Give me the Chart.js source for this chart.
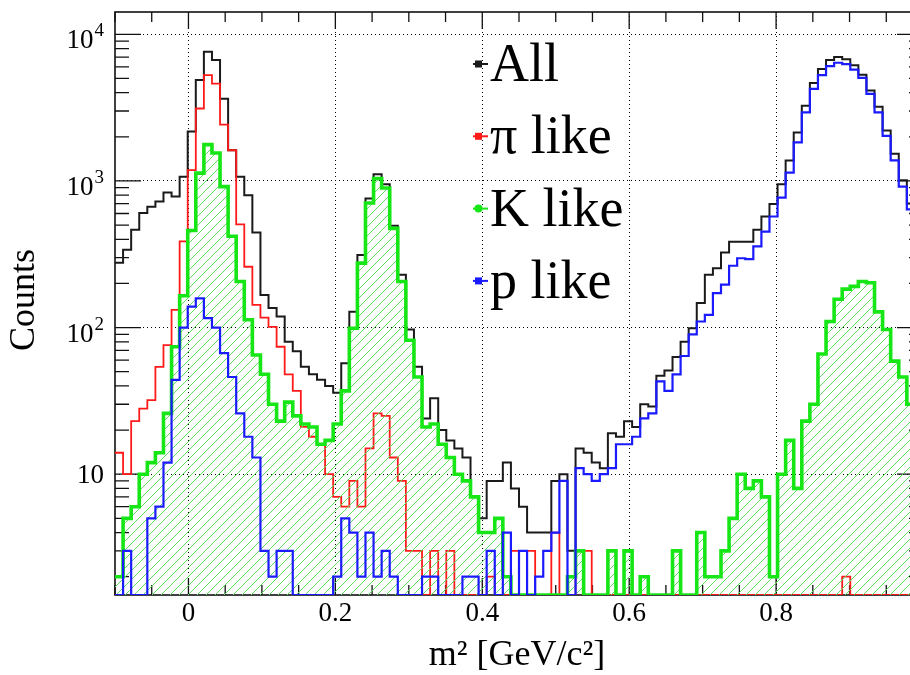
<!DOCTYPE html>
<html>
<head>
<meta charset="utf-8">
<script src="https://cdn.jsdelivr.net/npm/chart.js@4/dist/chart.umd.min.js"></script>
<style>
  html, body { margin: 0; padding: 0; background: #fff; overflow: hidden; }
  #wrap { width: 940px; height: 675px; }
</style>
</head>
<body>
<div id="wrap"><canvas id="m2-chart" width="940" height="675" style="width:940px;height:675px"></canvas></div>
<script>
// m^2 spectrum: 100 bins of 0.011 from -0.1 to 1.0, counts
var binLow = -0.1;
var binWidth = 0.011;

var countsAll = [277, 340, 464, 605, 667, 725, 833, 783, 1070, 2170,
  4880, 7620, 6680, 3630, 1620, 1070, 800, 445, 167, 136,
  119, 80, 69, 54, 48, 44, 40, 36, 57, 128,
  313, 760, 1110, 950, 495, 229, 97, 54, 24, 33,
  20, 17, 15, 13, 7, 5, 9, 9, 12, 8,
  6, 4, 4, 4, 9, 10, 3, 15, 14, 12,
  11, 19, 18, 23, 21, 30, 29, 47, 51, 63,
  80, 99, 147, 229, 254, 325, 385, 385, 385, 464,
  572, 697, 950, 1380, 2140, 3260, 4660, 5810, 6680, 7000,
  6750, 6150, 5310, 4140, 3210, 2210, 1530, 1010, 703, 480];

var countsPi = [14, 10, 23, 28, 32, 54, 76, 132, 387, 1185,
  3120, 5270, 4610, 2420, 1620, 505, 260, 143, 117, 101,
  74, 48, 37, 21, 18, 16, 10, 7, 6, 9,
  6, 15, 26, 25, 13, 9, 3, 3, 1, 3,
  1, 3, 0, 0, 0, 0, 2, 0, 0, 3,
  3, 3, 0, 0, 4, 0, 0, 3, 3, 0,
  0, 0, 0, 0, 0, 0, 0, 0, 0, 0,
  0, 0, 0, 0, 0, 0, 0, 0, 0, 0,
  0, 0, 0, 0, 0, 0, 0, 0, 0, 0,
  2, 0, 0, 0, 0, 0, 0, 0, 0, 0];

var countsK = [2, 5, 6, 10, 12, 14, 26, 74, 165, 459,
  1130, 1770, 1550, 915, 420, 206, 113, 65, 48, 30,
  23, 31, 25, 22, 21, 16, 17, 22, 37, 99,
  275, 708, 1040, 895, 475, 206, 82, 46, 21, 22,
  16, 13, 10, 9, 7, 4, 4, 5, 2, 0,
  0, 0, 0, 0, 0, 0, 2, 3, 0, 0,
  0, 3, 0, 3, 0, 2, 0, 0, 0, 3,
  0, 0, 4, 2, 2, 3, 5, 10, 8, 9,
  7, 2, 10, 17, 8, 23, 30, 66, 110, 156,
  183, 191, 206, 202, 128, 97, 59, 46, 30, 20];

var countsP = [0, 3, 0, 0, 5, 6, 12, 44, 100, 139,
  158, 116, 100, 67, 46, 26, 18, 13, 3, 2,
  3, 3, 0, 0, 0, 0, 0, 2, 5, 4,
  2, 4, 2, 3, 2, 0, 0, 0, 2, 2,
  0, 0, 0, 2, 2, 0, 3, 0, 4, 0,
  3, 0, 2, 3, 4, 9, 0, 11, 10, 9,
  10, 11, 16, 16, 18, 24, 26, 43, 37, 48,
  64, 90, 110, 122, 172, 196, 264, 297, 293, 358,
  451, 572, 770, 1140, 1830, 2940, 4250, 5270, 6060, 6400,
  6260, 5740, 5050, 3920, 2940, 2030, 1380, 915, 640, 440];

var xTicks = [0, 0.2, 0.4, 0.6, 0.8];
var yTicks = [10, 100, 1000, 10000];
var legendLabels = ['All', 'π like', 'K like', 'p like'];
var xTitle = 'm² [GeV/c²]';
var yTitle = 'Counts';

var yMin = 1.5, yMax = 14200;
var serif = '"Liberation Serif", "Times New Roman", serif';

// histogram outline: one point per left bin edge + closing right edge
function toSteps(counts) {
  var pts = counts.map(function (c, i) {
    return { x: binLow + i * binWidth, y: Math.max(c, yMin) };
  });
  pts.push({ x: binLow + counts.length * binWidth, y: Math.max(counts[counts.length - 1], yMin) });
  return pts;
}

function makeHatch(color) {
  var c = document.createElement('canvas');
  c.width = 9; c.height = 9;
  var g = c.getContext('2d');
  g.strokeStyle = color;
  g.lineWidth = 1;
  g.beginPath();
  g.moveTo(0, 9); g.lineTo(9, 0);
  g.moveTo(-2, 2); g.lineTo(2, -2);
  g.moveTo(7, 11); g.lineTo(11, 7);
  g.stroke();
  return g.createPattern(c, 'repeat');
}

var seriesColors = ['#1a1a1a', '#ff1a1a', '#16e616', '#1a1aff'];

var rootFrame = {
  id: 'rootFrame',
  beforeDatasetsDraw: function (chart) {
    var ctx = chart.ctx, a = chart.chartArea;
    var xs = chart.scales.x, ys = chart.scales.y;
    ctx.save();
    ctx.strokeStyle = '#111';
    ctx.lineWidth = 1.6;
    ctx.strokeRect(a.left, a.top, a.right - a.left, a.bottom - a.top);
    ctx.lineWidth = 1.3;
    ctx.beginPath();
    for (var k = -2; k <= 20; k++) {
      var px = xs.getPixelForValue(k * 0.05);
      var len = (k % 4 === 0) ? 17 : 10;
      ctx.moveTo(px, a.bottom); ctx.lineTo(px, a.bottom - len);
      ctx.moveTo(px, a.top); ctx.lineTo(px, a.top + len);
    }
    for (var e = 0; e <= 4; e++) {
      for (var m = 1; m <= 9; m++) {
        var val = m * Math.pow(10, e);
        if (val < ys.min || val > ys.max) continue;
        var py = ys.getPixelForValue(val);
        var l = m === 1 ? 26 : 14;
        ctx.moveTo(a.left, py); ctx.lineTo(a.left + l, py);
        ctx.moveTo(a.right, py); ctx.lineTo(a.right - l, py);
      }
    }
    ctx.stroke();
    ctx.restore();
  },
  afterDraw: function (chart) {
    var ctx = chart.ctx, a = chart.chartArea, ys = chart.scales.y;
    ctx.save();
    ctx.fillStyle = '#000';
    ctx.textBaseline = 'alphabetic';

    // y tick labels as 10^n
    ctx.textAlign = 'right';
    yTicks.forEach(function (v) {
      var py = ys.getPixelForValue(v);
      var n = Math.round(Math.log10(v));
      if (n === 1) {
        ctx.font = '27px ' + serif;
        ctx.fillText('10', 104, py + 9);
      } else {
        ctx.font = '19px ' + serif;
        var s = String(n);
        ctx.fillText(s, 104, py + 2);
        var w = ctx.measureText(s).width;
        ctx.font = '27px ' + serif;
        ctx.fillText('10', 104 - w - 1, py + 14);
      }
    });

    // axis titles
    ctx.font = '36px ' + serif;
    ctx.textAlign = 'center';
    ctx.fillText(xTitle, 517, 665);
    ctx.save();
    ctx.translate(25, 300);
    ctx.rotate(-Math.PI / 2);
    ctx.textBaseline = 'middle';
    ctx.fillText(yTitle, 0, 0);
    ctx.restore();

    // legend
    ctx.textAlign = 'left';
    ctx.font = '54px ' + serif;
    legendLabels.forEach(function (t, i) {
      var base = 81 + i * 72.3;
      var my = base - 17;
      ctx.strokeStyle = seriesColors[i];
      ctx.fillStyle = seriesColors[i];
      ctx.lineWidth = 2;
      ctx.beginPath();
      ctx.moveTo(473, my); ctx.lineTo(488, my);
      ctx.stroke();
      if (i === 2) {
        ctx.beginPath();
        ctx.arc(478.5, my, 4, 0, Math.PI * 2);
        ctx.fill();
      } else {
        ctx.fillRect(475, my - 3.5, 7, 7);
      }
      ctx.fillStyle = '#000';
      ctx.fillText(t, 490, base);
    });
    ctx.restore();
  }
};

var ctx = document.getElementById('m2-chart');
new Chart(ctx, {
  type: 'line',
  data: {
    datasets: [{
      label: legendLabels[0],
      data: toSteps(countsAll),
      borderColor: seriesColors[0],
      borderWidth: 2,
      order: 3
    }, {
      label: legendLabels[1],
      data: toSteps(countsPi),
      borderColor: seriesColors[1],
      borderWidth: 1.8,
      order: 2
    }, {
      label: legendLabels[2],
      data: toSteps(countsK),
      borderColor: seriesColors[2],
      borderWidth: 3.6,
      backgroundColor: makeHatch('#5ee05e'),
      fill: 'start',
      order: 1
    }, {
      label: legendLabels[3],
      data: toSteps(countsP),
      borderColor: seriesColors[3],
      borderWidth: 2.2,
      order: 0
    }]
  },
  options: {
    responsive: false,
    animation: false,
    events: [],
    layout: { padding: { top: 12, right: 17, left: 0, bottom: 0 } },
    elements: {
      line: { stepped: 'before', tension: 0, fill: false },
      point: { radius: 0, hoverRadius: 0 }
    },
    plugins: { legend: { display: false }, tooltip: { enabled: false } },
    scales: {
      x: {
        type: 'linear',
        min: -0.1,
        max: 1.0,
        afterBuildTicks: function (s) { s.ticks = xTicks.map(function (v) { return { value: v }; }); },
        afterFit: function (s) { s.height = 80; },
        grid: { color: '#000', lineWidth: 1, drawTicks: false },
        border: { display: false, dash: [1, 3] },
        ticks: {
          color: '#000',
          font: { family: serif, size: 27 },
          padding: 3,
          maxRotation: 0,
          autoSkip: false,
          callback: function (v) { return String(v); }
        }
      },
      y: {
        type: 'logarithmic',
        min: yMin,
        max: yMax,
        afterBuildTicks: function (s) { s.ticks = yTicks.map(function (v) { return { value: v }; }); },
        afterFit: function (s) { s.width = 115; },
        grid: { color: '#000', lineWidth: 1, drawTicks: false },
        border: { display: false, dash: [1, 3] },
        ticks: { display: false }
      }
    }
  },
  plugins: [rootFrame]
});
</script>
</body>
</html>
